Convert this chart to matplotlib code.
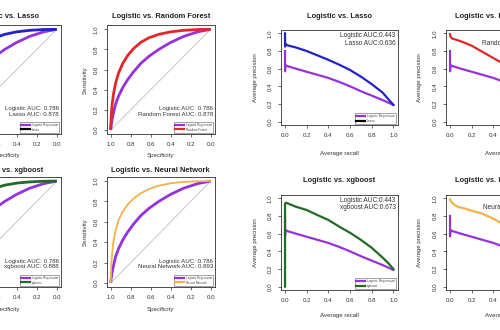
import matplotlib
matplotlib.use("Agg")
import matplotlib.pyplot as plt
from matplotlib.ticker import FormatStrFormatter

plt.rcParams['font.family'] = ['Liberation Sans', 'DejaVu Sans']

# ---------------- data ----------------
roc_spec = [1.0, 0.995, 0.985, 0.97, 0.95, 0.92, 0.88, 0.83, 0.77, 0.70, 0.62, 0.52, 0.40, 0.27, 0.13, 0.0]
roc_logistic = [0.0, 0.05, 0.11, 0.18, 0.26, 0.34, 0.42, 0.50, 0.58, 0.66, 0.73, 0.80, 0.87, 0.93, 0.975, 1.0]
roc_lasso = [0.0, 0.14, 0.26, 0.37, 0.47, 0.57, 0.66, 0.74, 0.81, 0.87, 0.915, 0.95, 0.975, 0.99, 0.998, 1.0]
roc_rf = [0.0, 0.14, 0.26, 0.37, 0.47, 0.57, 0.66, 0.74, 0.81, 0.87, 0.915, 0.95, 0.975, 0.99, 0.998, 1.0]
roc_xgb = [0.0, 0.15, 0.28, 0.40, 0.50, 0.60, 0.69, 0.77, 0.835, 0.89, 0.93, 0.96, 0.98, 0.992, 0.998, 1.0]
roc_nn = [0.0, 0.16, 0.30, 0.42, 0.52, 0.62, 0.70, 0.77, 0.83, 0.88, 0.92, 0.955, 0.978, 0.992, 0.998, 1.0]

pr_log_recall = [0.0, 0.0, 0.004, 0.02, 0.1, 0.2, 0.3, 0.4, 0.5, 0.6, 0.7, 0.8, 0.9, 1.0]
pr_log_prec = [0.80, 0.57, 0.64, 0.63, 0.60, 0.565, 0.53, 0.495, 0.45, 0.40, 0.345, 0.295, 0.245, 0.19]
pr_lasso_recall = [0.0, 0.0, 0.005, 0.02, 0.1, 0.2, 0.3, 0.4, 0.5, 0.6, 0.7, 0.8, 0.9, 0.95, 1.0]
pr_lasso_prec = [1.0, 0.85, 0.88, 0.865, 0.84, 0.80, 0.75, 0.70, 0.645, 0.585, 0.51, 0.425, 0.33, 0.26, 0.19]
pr_rf_recall = [0.0, 0.005, 0.02, 0.05, 0.1, 0.2, 0.3, 0.4, 0.5, 0.6, 0.7, 0.8, 0.9, 1.0]
pr_rf_prec = [0.99, 0.96, 0.94, 0.93, 0.91, 0.86, 0.79, 0.72, 0.65, 0.57, 0.49, 0.41, 0.32, 0.2]
pr_xgb_recall = [0.0, 0.0, 0.01, 0.05, 0.1, 0.2, 0.3, 0.4, 0.5, 0.6, 0.7, 0.8, 0.9, 0.95, 1.0]
pr_xgb_prec = [0.0, 0.94, 0.95, 0.93, 0.905, 0.868, 0.81, 0.755, 0.68, 0.61, 0.53, 0.44, 0.33, 0.27, 0.2]
pr_nn_recall = [0.0, 0.005, 0.04, 0.08, 0.13, 0.2, 0.29, 0.4, 0.47, 0.6, 0.7, 0.8, 0.9, 1.0]
pr_nn_prec = [0.99, 0.97, 0.925, 0.90, 0.887, 0.86, 0.83, 0.77, 0.72, 0.64, 0.56, 0.47, 0.36, 0.2]

models = ["Lasso", "Random Forest", "xgboost", "Neural Network"]
roc_auc_logistic = "0.786"
roc_auc_models = ["0.878", "0.878", "0.888", "0.893"]
pr_auc_logistic = "0.443"
pr_auc_models = ["0.636", "0.652", "0.673", "0.681"]
ticks = [0.0, 0.2, 0.4, 0.6, 0.8, 1.0]

# ---------------- style ----------------
PURPLE = "#9532dc"
COLORS = {"Lasso": "#2222c8", "Random Forest": "#e02828", "xgboost": "#226b26", "Neural Network": "#f2b446"}
LEG_COLORS = {"Lasso": "#000000", "Random Forest": "#e02828", "xgboost": "#226b26", "Neural Network": "#f2b446"}
FRAME = "#303030"

W, H = 500, 330
fig = plt.figure(figsize=(5, 3.3), dpi=100)


def rect(l, t, r, b):
    return [l / W, 1 - b / H, (r - l) / W, (b - t) / H]


def ftext(x, y, s, **kw):
    fig.text(x / W, 1 - y / H, s, **kw)


def style_axes(ax):
    for sp in ax.spines.values():
        sp.set_color(FRAME)
        sp.set_linewidth(0.6)
    ax.tick_params(axis='both', direction='out', length=2.3, width=0.5, color=FRAME,
                   labelsize=4.4, labelcolor="#333333", pad=3.2)
    ax.tick_params(axis='y', labelrotation=90)
    for lab in ax.get_yticklabels():
        lab.set_va('center')
    ax.xaxis.set_major_formatter(FormatStrFormatter('%.1f'))
    ax.yaxis.set_major_formatter(FormatStrFormatter('%.1f'))


def add_legend(ax, model, fs=2.2):
    h1, = ax.plot([], [], color=PURPLE, lw=1.6)
    h2, = ax.plot([], [], color=LEG_COLORS[model], lw=1.6)
    leg = ax.legend([h1, h2], ["Logistic Regression", model], loc='lower right',
                    fontsize=fs, frameon=True, fancybox=False, edgecolor="#333333",
                    borderaxespad=0.45, borderpad=0.35, labelspacing=0.15,
                    handlelength=3.0, handletextpad=0.6)
    leg.get_frame().set_linewidth(0.4)
    for t in leg.get_texts():
        t.set_color("#444444")


# ROC axes: (left, top, right, bottom) in pixels
roc_boxes = [(-47.3, 25.3, 60.7, 134.0), (106.7, 25.3, 214.7, 134.0),
             (-47.3, 177.0, 60.7, 287.0), (106.7, 177.0, 214.7, 287.0)]
roc_curves = [roc_lasso, roc_rf, roc_xgb, roc_nn]
roc_lw = [2.0, 2.0, 2.0, 1.3]
roc_title_y = [17, 17, 171, 171]
roc_xlab_y = [155, 155, 309, 309]

for i, (box, model, curve) in enumerate(zip(roc_boxes, models, roc_curves)):
    ax = fig.add_axes(rect(*box))
    ax.plot([1, 0], [0, 1], color="#c8c8c8", lw=0.7)
    ax.plot(roc_spec, roc_logistic, color=PURPLE, lw=2.0, solid_capstyle='butt')
    ax.plot(roc_spec, curve, color=COLORS[model], lw=roc_lw[i], solid_capstyle='butt')
    ax.set_xlim(1.04, -0.04)
    ax.set_ylim(-0.04, 1.04)
    ax.set_xticks(ticks)
    ax.set_yticks(ticks)
    style_axes(ax)
    ax.text(0.985, 0.23, f"Logistic AUC: {roc_auc_logistic}", transform=ax.transAxes,
            ha='right', va='center', fontsize=4.4, color="#333333")
    ax.text(0.985, 0.182, f"{model} AUC: {roc_auc_models[i]}", transform=ax.transAxes,
            ha='right', va='center', fontsize=4.4, color="#333333")
    add_legend(ax, model)
    cx = (box[0] + box[2]) / 2
    ftext(cx, roc_title_y[i], f"Logistic vs. {model}", ha='center', va='center',
          fontsize=5.4, fontweight='bold', color="#222222")
    ftext(cx, roc_xlab_y[i], "Specificity", ha='center', va='center', fontsize=4.4, color="#333333")
    ftext(box[0] - 21.7, (box[1] + box[3]) / 2, "Sensitivity", ha='center', va='center',
          rotation=90, fontsize=4.4, color="#333333")

# PR axes
pr_boxes = [(280.7, 29.8, 397.7, 125.2), (445.7, 29.8, 562.7, 125.2),
            (280.7, 194.8, 397.7, 290.2), (445.7, 194.8, 562.7, 290.2)]
pr_curves = [(pr_lasso_recall, pr_lasso_prec), (pr_rf_recall, pr_rf_prec),
             (pr_xgb_recall, pr_xgb_prec), (pr_nn_recall, pr_nn_prec)]
pr_title_y = [16, 16, 180, 180]
pr_xlab_y = [153, 153, 316, 316]
pr_txt_y = [(0.938, 0.858), (0.938, 0.858), (0.945, 0.865), (0.945, 0.865)]

for i, (box, model, (rc, pc)) in enumerate(zip(pr_boxes, models, pr_curves)):
    ax = fig.add_axes(rect(*box))
    ax.plot(pr_log_recall, pr_log_prec, color=PURPLE, lw=1.6)
    ax.plot(rc, pc, color=COLORS[model], lw=1.6)
    ax.set_xlim(-0.04, 1.04)
    ax.set_ylim(-0.04, 1.04)
    ax.set_xticks(ticks)
    ax.set_yticks(ticks)
    style_axes(ax)
    ax.text(0.983, pr_txt_y[i][0], f"Logistic AUC:{pr_auc_logistic}", transform=ax.transAxes,
            ha='right', va='center', fontsize=4.7, color="#333333")
    ax.text(0.983, pr_txt_y[i][1], f"{model} AUC:{pr_auc_models[i]}", transform=ax.transAxes,
            ha='right', va='center', fontsize=4.7, color="#333333")
    add_legend(ax, model, fs=2.3)
    cx = (box[0] + box[2]) / 2
    ftext(cx, pr_title_y[i], f"Logistic vs. {model}", ha='center', va='center',
          fontsize=5.4, fontweight='bold', color="#222222")
    ftext(cx, pr_xlab_y[i], "Average recall", ha='center', va='center', fontsize=4.4, color="#333333")
    ftext(box[0] - 25.7, (box[1] + box[3]) / 2, "Average precision", ha='center', va='center',
          rotation=90, fontsize=4.4, color="#333333")

fig.savefig("out.png", dpi=100)
